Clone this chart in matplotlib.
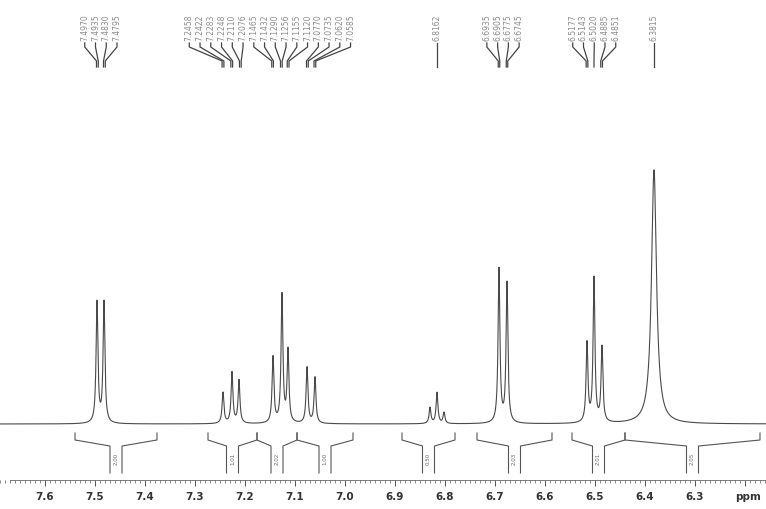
import numpy as np
import matplotlib.pyplot as plt
from matplotlib.ticker import MultipleLocator, FuncFormatter

# peak list (ppm, height in px above baseline, half width)
peak_ppm = [7.496, 7.482, 7.244, 7.226, 7.212, 7.144, 7.126, 7.114, 7.076, 7.060,
            6.830, 6.816, 6.802, 6.692, 6.676, 6.516, 6.502, 6.486, 6.382]
peak_height = [121, 121, 31, 51, 43, 66, 128, 72, 56, 46,
               16, 31, 11, 154, 140, 79, 144, 75, 254]
peak_width = [0.0022] * 18 + [0.006]

# picked peak labels, one list per group
label_groups = [
    [7.4970, 7.4935, 7.4830, 7.4795],
    [7.2458, 7.2422, 7.2283, 7.2248, 7.2110, 7.2076, 7.1465, 7.1432,
     7.1290, 7.1256, 7.1155, 7.1120, 7.0770, 7.0735, 7.0620, 7.0585],
    [6.8162],
    [6.6935, 6.6905, 6.6775, 6.6745],
    [6.5177, 6.5143, 6.5020, 6.4885, 6.4851],
    [6.3815],
]

# integration regions (left ppm, right ppm) and values
integ_left = [7.540, 7.274, 7.176, 7.096, 6.886, 6.736, 6.546, 6.440]
integ_right = [7.376, 7.176, 7.096, 6.984, 6.780, 6.586, 6.440, 6.170]
integ_value = ["2.00", "1.01", "2.02", "1.00", "0.50", "2.03", "2.01", "2.05"]

H = 509


def py(p):
    # pixel row from top -> data y
    return H - p


fig = plt.figure(figsize=(7.66, 5.09), dpi=100)
ax = fig.add_axes([0, 0, 1, 1])
ax.set_xlim(7.69, 6.158)
ax.set_ylim(0, H)

# spectrum
x = np.linspace(7.69, 6.158, 15000)
y = np.full_like(x, py(424))
for c, h, w in zip(peak_ppm, peak_height, peak_width):
    y += h * w ** 2 / ((x - c) ** 2 + w ** 2)
ax.plot(x, y, color="#4a4a4a", lw=0.8)

# peak labels with fan lines
sp = 0.0215
for grp in label_groups:
    n = len(grp)
    cen = np.mean(grp)
    for i, v in enumerate(grp):
        lx = cen + ((n - 1) / 2 - i) * sp
        ax.text(lx, py(41), "%.4f" % v, rotation=90, ha="center", va="bottom",
                fontsize=5.5, color="#8a8a8a")
        ax.plot([lx, lx, v, v], [py(43), py(47), py(61), py(67)],
                color="#444444", lw=0.9)

# integration brackets
hs = 0.012
for a, b, val in zip(integ_left, integ_right, integ_value):
    c = (a + b) / 2
    ax.plot([a, a, c + hs, c + hs], [py(433), py(440), py(446), py(473)],
            color="#555555", lw=0.8)
    ax.plot([b, b, c - hs, c - hs], [py(433), py(440), py(446), py(473)],
            color="#555555", lw=0.8)
    ax.text(c, py(459), val, rotation=90, ha="center", va="center",
            fontsize=4, color="#666666")

# ppm axis
for s in ["top", "left", "right"]:
    ax.spines[s].set_visible(False)
ax.spines["bottom"].set_position(("data", py(480)))
ax.spines["bottom"].set_bounds(7.67, 6.158)
ax.spines["bottom"].set_color("#666666")
ax.spines["bottom"].set_linewidth(0.6)
ax.xaxis.set_major_locator(MultipleLocator(0.1))
ax.xaxis.set_minor_locator(MultipleLocator(0.01))
ax.xaxis.set_major_formatter(FuncFormatter(lambda v, p: "" if v < 6.25 else "%.1f" % v))
ax.tick_params(axis="x", which="major", length=4, width=0.7, color="#555555",
               labelsize=7.5, labelcolor="#333333", pad=5)
ax.tick_params(axis="x", which="minor", length=2, width=0.6, color="#777777")
for t in ax.get_xticklabels():
    t.set_fontweight("bold")
ax.set_yticks([])
ax.text(6.22, py(497), "ppm", ha="left", va="center", fontsize=7.5,
        fontweight="bold", color="#333333")

fig.savefig("out.png", dpi=100)
